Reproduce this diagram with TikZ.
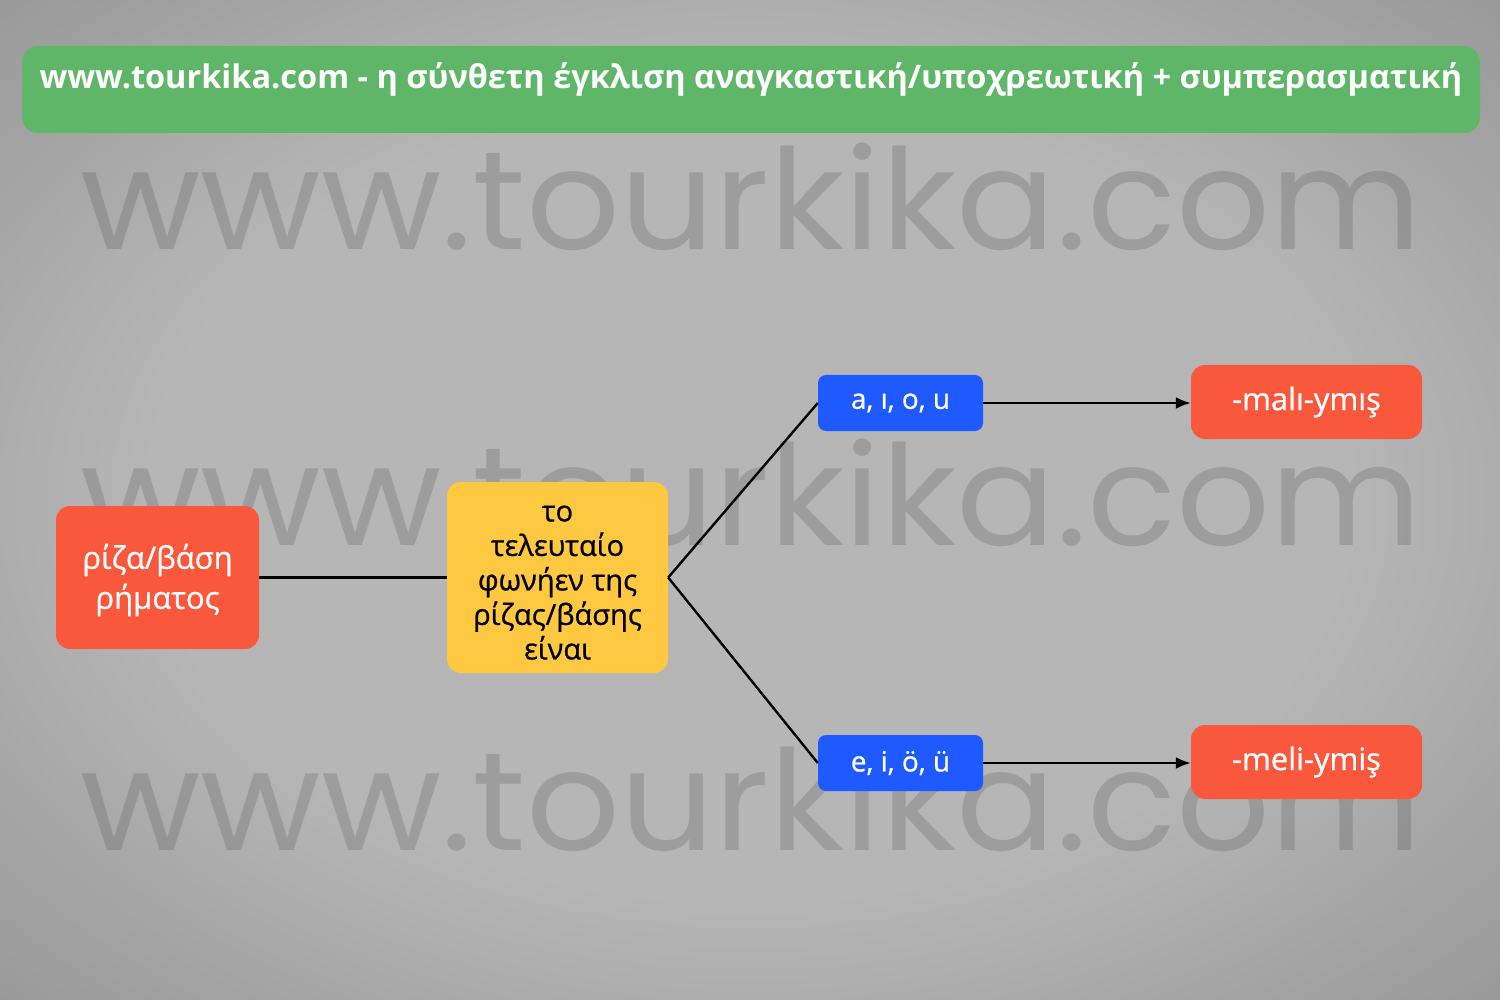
\documentclass[tikz,border=0pt]{standalone}
\usepackage{fontspec}
\setmainfont{Open Sans}
\newfontfamily\medfont{Open Sans}[FakeBold=0.8]
\newfontfamily\wmfont{Poppins}
\usetikzlibrary{arrows.meta}
\definecolor{bgin}{RGB}{182,182,182}
\definecolor{bgout}{RGB}{116,116,116}
\definecolor{wmgray}{RGB}{60,60,60}
\definecolor{titlegreen}{RGB}{96,182,104}
\definecolor{boxred}{RGB}{250,88,60}
\definecolor{boxblue}{RGB}{30,90,255}
\definecolor{boxyellow}{RGB}{254,200,64}
\pgfdeclareradialshading{vign}{\pgfpoint{0bp}{0bp}}{color(0bp)=(bgin); color(20bp)=(bgin); color(55bp)=(bgout); color(80bp)=(bgout)}
\tikzset{
  wm/.style={text=wmgray, text opacity=0.2, font=\wmfont\fontsize{140}{140}\selectfont, inner sep=0pt, xscale=1.05},
  box/.style={rounded corners=14pt, inner sep=0pt, align=center},
  redbox/.style={box, fill=boxred, text=white, font=\medfont\fontsize{31}{40}\selectfont},
  bluebox/.style={box, fill=boxblue, text=white, rounded corners=8pt, font=\medfont\fontsize{28}{36}\selectfont},
  yelbox/.style={box, fill=boxyellow, text=black, font=\medfont\fontsize{29}{34.5}\selectfont},
  link/.style={line width=2.4pt, black},
  arrowlink/.style={link, -{Latex[length=15pt,width=12pt]}}
}
\begin{document}
\begin{tikzpicture}[x=1pt,y=-1pt]
\useasboundingbox (0,0) rectangle (1500,1000);
\shade[shading=vign] (0,0) rectangle (1500,1000);
% watermarks
\node[wm, anchor=base] (wmA) at (751,250) {www.tourkika.com};
\node[wm, anchor=base] (wmB) at (751,545) {www.tourkika.com};
\node[wm, anchor=base] (wmC) at (751,850) {www.tourkika.com};
% title
\node[fill=titlegreen, rounded corners=16pt, minimum width=1458pt, minimum height=87pt, inner sep=0pt] (titlebar) at (751,89.5) {};
\node[text=white, font=\bfseries\fontsize{32.5}{36}\selectfont, anchor=base] (title) at (751,89) {www.tourkika.com - η σύνθετη έγκλιση αναγκαστική/υποχρεωτική + συμπερασματική};
% nodes
\node[redbox, minimum width=203pt, minimum height=143pt] (root) at (157.5,577.5) {\rule{0pt}{30pt}ρίζα/βάση\\ρήματος};
\node[yelbox, minimum width=221pt, minimum height=191pt] (vowel) at (557.5,577.5) {\rule{0pt}{26pt}το\\τελευταίο\\φωνήεν της\\ρίζας/βάσης\\είναι};
\node[bluebox, minimum width=165pt, minimum height=56pt] (back) at (900.5,403) {a, ı, o, u};
\node[bluebox, minimum width=165pt, minimum height=56pt] (front) at (900.5,763) {e, i, ö, ü};
\node[redbox, minimum width=231pt, minimum height=74pt] (mali) at (1306.5,402) {-malı-ymış};
\node[redbox, minimum width=231pt, minimum height=74pt] (meli) at (1306.5,762) {-meli-ymiş};
% connectors
\draw[link] (root.east) -- (vowel.west |- root.east);
\draw[link] (vowel.east |- root.east) -- (back.west);
\draw[link] (vowel.east |- root.east) -- (front.west);
\draw[arrowlink] (back.east) -- (back.east -| mali.west);
\draw[arrowlink] (front.east) -- (front.east -| meli.west);
\end{tikzpicture}
\end{document}
